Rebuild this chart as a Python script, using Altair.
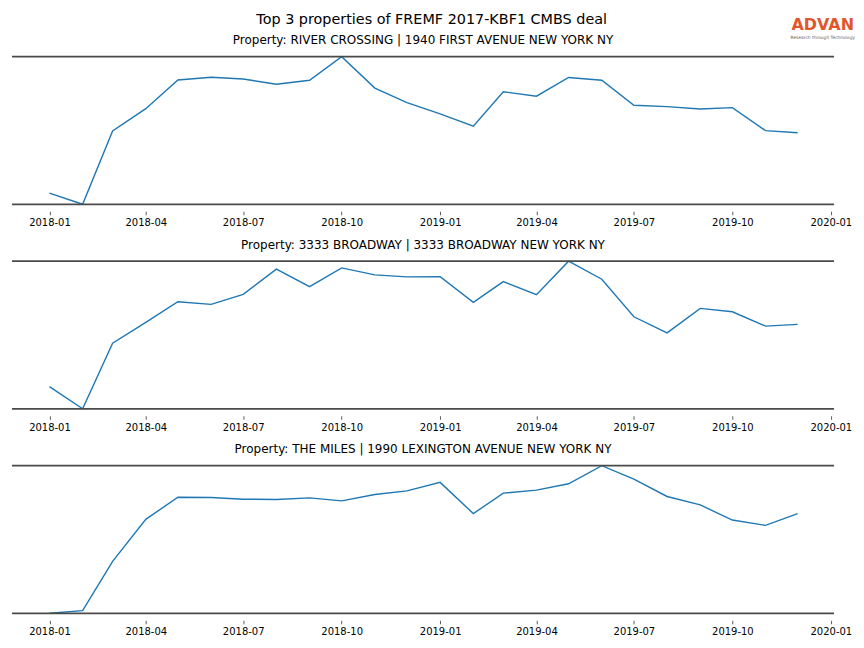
import altair as alt
import pandas as pd

# ---- data -------------------------------------------------------------
months = [
    "2018-01-01", "2018-02-01", "2018-03-01", "2018-04-01", "2018-05-01", "2018-06-01",
    "2018-07-01", "2018-08-01", "2018-09-01", "2018-10-01", "2018-11-01", "2018-12-01",
    "2019-01-01", "2019-02-01", "2019-03-01", "2019-04-01", "2019-05-01", "2019-06-01",
    "2019-07-01", "2019-08-01", "2019-09-01", "2019-10-01", "2019-11-01", "2019-12-01",
]

main_title = "Top 3 properties of FREMF 2017-KBF1 CMBS deal"
panel_titles = [
    "Property: RIVER CROSSING | 1940 FIRST AVENUE NEW YORK NY",
    "Property: 3333 BROADWAY | 3333 BROADWAY NEW YORK NY",
    "Property: THE MILES | 1990 LEXINGTON AVENUE NEW YORK NY",
]

# relative foot-traffic index (y axis unlabeled)
river_crossing = [11.0, 0.0, 72.3, 94.3, 122.6, 125.3, 123.6, 118.3, 122.3, 145.6, 114.6, 100.3,
                  89.1, 77.0, 111.0, 106.6, 125.0, 122.3, 97.6, 96.3, 94.0, 95.3, 72.6, 70.6]
broadway_3333 = [22.0, 0.0, 65.3, 86.0, 106.6, 104.0, 114.0, 139.0, 121.6, 140.3, 133.3, 131.3,
                 131.6, 106.0, 126.6, 113.6, 147.0, 129.0, 91.6, 75.6, 100.0, 96.6, 82.3, 84.0]
the_miles = [0.0, 2.6, 51.6, 93.3, 115.3, 115.0, 113.3, 113.0, 114.6, 111.6, 118.0, 121.6,
             130.0, 99.0, 119.3, 122.3, 128.6, 146.6, 133.3, 116.0, 107.6, 92.6, 87.3, 99.0]
series = [river_crossing, broadway_3333, the_miles]

tick_dates = ["2018-01-01", "2018-04-01", "2018-07-01", "2018-10-01", "2019-01-01",
              "2019-04-01", "2019-07-01", "2019-10-01", "2020-01-01"]
x_domain = ["2017-11-27", "2020-01-04"]

logo_text = "ADVAN"
logo_sub = "Research through Technology"

# ---- styling ----------------------------------------------------------
W, H = 824, 148
FONT = "DejaVu Sans"
LINE_COLOR = "#1f77b4"
SPINE_COLOR = "#4a4a4a"


def dt(s):
    y, m, d = (int(p) for p in s.split("-"))
    return alt.DateTime(year=y, month=m, date=d, utc=True)


def one_row():
    return pd.DataFrame({"k": [0]})


def panel(idx):
    df = pd.DataFrame({"date": months, "value": series[idx]})
    line = alt.Chart(df).mark_line(color=LINE_COLOR, strokeWidth=1.4).encode(
        x=alt.X(
            "date:T",
            scale=alt.Scale(type="utc", domain=[dt(x_domain[0]), dt(x_domain[1])]),
            axis=alt.Axis(
                values=[dt(t) for t in tick_dates],
                format="%Y-%m",
                title=None,
                grid=False,
                domain=False,
                offset=7,
                tickSize=3.5,
                tickWidth=0.8,
                tickColor="#333333",
                labelPadding=3,
                labelFontSize=10,
                labelFont=FONT,
                labelColor="#000000",
                labelFlush=False,
                labelOverlap=False,
            ),
        ),
        y=alt.Y("value:Q", scale=alt.Scale(zero=False, nice=False), axis=None),
    )
    top_spine = alt.Chart(one_row()).mark_rule(color=SPINE_COLOR, strokeWidth=1.8).encode(
        x=alt.value(0), x2=alt.value(W), y=alt.value(0)
    )
    bottom_spine = alt.Chart(one_row()).mark_rule(color=SPINE_COLOR, strokeWidth=1.8).encode(
        x=alt.value(0), x2=alt.value(W), y=alt.value(H)
    )
    ptitle = alt.Chart(one_row()).mark_text(
        text=panel_titles[idx], font=FONT, fontSize=12, color="#000000",
        align="center", baseline="alphabetic"
    ).encode(x=alt.value(W / 2), y=alt.value(-12.2))
    layers = [line, top_spine, bottom_spine, ptitle]
    if idx == 0:
        mtitle = alt.Chart(one_row()).mark_text(
            text=main_title, font=FONT, fontSize=14.4, color="#000000",
            align="center", baseline="alphabetic"
        ).encode(x=alt.value(420.7), y=alt.value(-33.2))
        logo = alt.Chart(one_row()).mark_text(
            text=logo_text, font=FONT, fontSize=16, fontWeight="bold", color="#e2562b",
            align="center", baseline="alphabetic"
        ).encode(x=alt.value(812.7), y=alt.value(-26.3))
        logo2 = alt.Chart(one_row()).mark_text(
            text=logo_sub, font=FONT, fontSize=4.4, color="#666666",
            align="center", baseline="alphabetic"
        ).encode(x=alt.value(812.7), y=alt.value(-17.7))
        layers += [mtitle, logo, logo2]
    return alt.layer(*layers).properties(width=W, height=H)


chart = alt.vconcat(panel(0), panel(1), panel(2), spacing=10).properties(
    padding={"left": 3, "top": 2, "right": 0, "bottom": 0}
).configure_view(stroke=None)

chart.save("out.html", embed_options={"renderer": "svg", "actions": False})
